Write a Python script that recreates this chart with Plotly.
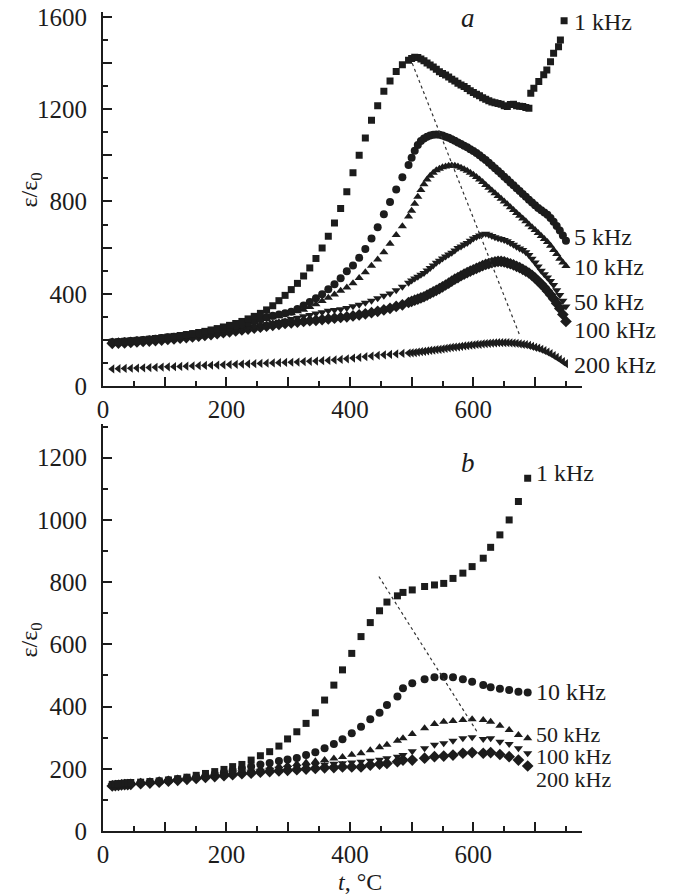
import plotly.graph_objects as go

# ---------------- panel a (top) ----------------
t_top = [15, 25, 35, 45, 55, 65, 75, 85, 95, 105, 115, 125, 135, 145, 155, 165, 175, 185, 195,
         205, 215, 225, 235, 245, 255, 265, 275, 285, 295, 305, 315, 325, 335, 345, 355, 365,
         375, 385, 395, 405, 415, 425, 435, 445, 455, 465, 475, 485, 495,
         500, 505, 510, 515, 520, 525, 530, 535, 540, 545, 550, 555, 560, 565, 570, 575, 580,
         585, 590, 595, 600, 605, 610, 615, 620, 625, 630, 635, 640, 645, 650, 655, 660, 665,
         670, 675, 680, 685, 690, 695, 700, 705, 710, 715, 720, 725, 730, 735, 740, 745, 750]

t_a_1k = [15, 25, 35, 45, 55, 65, 75, 85, 95, 105, 115, 125, 135, 145, 155, 165, 175, 185, 195,
          205, 215, 225, 235, 245, 255, 265, 275, 285, 295, 305, 315, 325, 335, 345, 355, 365,
          375, 385, 395, 405, 415, 425, 435, 445, 455, 465, 475, 485, 495,
          500, 505, 510, 515, 520, 525, 530, 535, 540, 545, 550, 555, 560, 565, 570, 575, 580,
          585, 590, 595, 600, 605, 610, 615, 620, 625, 630, 635, 640, 645, 650, 655, 660, 665,
          670, 675, 680, 685, 690,
          693, 698, 706, 714, 719, 725, 730, 738, 741, 747]
eps_a_1k = [190, 192, 194, 196, 198, 200, 203, 206, 209, 212, 215, 219, 223, 227, 232, 237, 243,
            249, 256, 263, 271, 280, 291, 302, 315, 330, 348, 370, 393, 418, 445, 477, 512, 553,
            598, 649, 707, 770, 842, 925, 1000, 1075, 1152, 1215, 1278, 1322, 1364, 1393, 1412,
            1420, 1425, 1424, 1418, 1410, 1400, 1392, 1383, 1373, 1363, 1355, 1348, 1340, 1330,
            1322, 1313, 1305, 1298, 1290, 1280, 1272, 1265, 1258, 1250, 1243, 1237, 1231, 1228,
            1225, 1222, 1215, 1212, 1220, 1222, 1215, 1213, 1212, 1208, 1204,
            1269, 1291, 1320, 1349, 1370, 1406, 1443, 1471, 1500, 1584]

eps_a_5k = [190, 191, 193, 195, 197, 199, 202, 205, 208, 211, 214, 217, 221, 225, 229, 233, 238,
            243, 249, 255, 261, 268, 275, 283, 291, 299, 305, 310, 315, 322, 334, 349, 364, 381,
            398, 419, 441, 467, 498, 522, 556, 594, 639, 688, 745, 798, 852, 905, 958,
            990, 1020, 1045, 1062, 1073, 1081, 1086, 1089, 1090, 1089, 1086, 1081, 1076, 1070,
            1063, 1056, 1049, 1042, 1035, 1027, 1019, 1010, 1000, 990, 980, 968, 956, 944, 932,
            920, 907, 895, 882, 870, 857, 845, 832, 820, 808, 796, 784, 772, 762, 752, 742, 728,
            712, 694, 674, 652, 630]

eps_a_10k = [188, 189, 191, 193, 195, 197, 200, 203, 206, 209, 212, 215, 219, 223, 227, 231, 236,
             241, 246, 251, 257, 263, 269, 276, 283, 290, 297, 304, 310, 317, 324, 331, 343, 355,
             369, 383, 397, 413, 427, 445, 468, 493, 521, 549, 580, 617, 655, 693, 735,
             760, 790, 820, 850, 875, 895, 912, 925, 935, 942, 948, 952, 955, 956, 955, 952, 946,
             940, 933, 925, 916, 906, 895, 884, 872, 860, 848, 836, 824, 812, 800, 788, 775, 763,
             750, 738, 726, 714, 700, 688, 676, 663, 650, 637, 624, 608, 590, 572, 552, 535, 520]

eps_a_50k = [188, 189, 191, 193, 195, 197, 199, 201, 204, 207, 210, 213, 216, 219, 222, 226, 230,
             234, 238, 242, 246, 250, 254, 258, 263, 268, 273, 278, 284, 290, 296, 302, 308, 314,
             320, 326, 330, 333, 338, 346, 352, 361, 370, 381, 391, 401, 415, 430, 448,
             457, 466, 474, 482, 490, 501, 512, 523, 534, 543, 553, 561, 570, 578, 588, 598, 605,
             613, 620, 630, 640, 646, 652, 658, 660, 656, 650, 645, 641, 637, 633, 628, 620, 612,
             604, 596, 590, 580, 568, 552, 535, 518, 500, 485, 470, 455, 438, 415, 395, 370, 345]

eps_a_100k = [185, 186, 187, 189, 191, 193, 195, 197, 199, 202, 204, 207, 210, 213, 216, 219, 223,
              227, 231, 235, 239, 243, 247, 251, 255, 259, 263, 267, 271, 274, 277, 280, 283, 285,
              288, 291, 294, 297, 300, 304, 308, 313, 318, 324, 330, 337, 345, 352, 362,
              367, 372, 377, 382, 387, 394, 401, 408, 415, 422, 430, 438, 446, 455, 463, 470, 478,
              485, 492, 498, 504, 510, 516, 522, 527, 531, 535, 538, 540, 540, 538, 534, 530, 525,
              519, 513, 506, 498, 490, 480, 468, 455, 442, 428, 412, 396, 378, 358, 336, 310, 280]

eps_a_200k = [74, 75, 76, 77, 78, 79, 80, 81, 82, 83, 84, 85, 86, 87, 88, 89, 90, 91, 92, 93, 94,
              95, 96, 97, 98, 99, 100, 101, 102, 103, 104, 106, 107, 108, 110, 111, 113, 115, 118,
              121, 124, 127, 130, 133, 135, 137, 139, 141, 143,
              144, 145, 147, 149, 150, 152, 154, 156, 158, 159, 161, 163, 165, 167, 169, 170, 172,
              174, 175, 177, 178, 180, 181, 183, 184, 185, 186, 187, 188, 188, 188, 188, 187, 186,
              185, 183, 181, 179, 176, 172, 168, 164, 159, 153, 147, 140, 132, 124, 115, 106, 97]

guide_a_t = [501, 676]
guide_a_eps = [1399, 214]

# ---------------- panel b (bottom) ----------------
t_b = [15, 20, 25, 30, 35, 40, 45, 61, 76, 91, 106, 121, 136, 151, 166, 181, 196, 210, 225, 240,
       255, 270, 285, 299, 314, 329, 344, 359, 374, 388, 403, 418, 433, 448, 460, 477, 486, 501,
       521, 537, 552, 567, 583, 598, 616, 628, 643, 658, 673, 688]

eps_b_1k = [150, 151, 152, 153, 154, 155, 156, 157, 159, 161, 164, 168, 173, 179, 185, 191, 198,
            207, 214, 228, 242, 255, 273, 296, 319, 346, 380, 421, 469, 518, 571, 625, 670, 708,
            736, 756, 767, 775, 786, 791, 796, 812, 829, 850, 877, 912, 952, 1000, 1059, 1134]

eps_b_10k = [148, 149, 150, 151, 152, 152, 153, 155, 157, 160, 163, 166, 170, 174, 178, 183, 189,
             195, 201, 207, 214, 219, 225, 230, 235, 244, 253, 266, 280, 295, 314, 335, 359, 380,
             405, 432, 459, 475, 488, 494, 496, 494, 488, 480, 469, 462, 457, 453, 448, 445]

eps_b_50k = [147, 148, 149, 150, 151, 151, 152, 154, 156, 159, 162, 165, 168, 172, 176, 180, 184,
             188, 192, 196, 200, 204, 208, 212, 216, 220, 224, 228, 233, 238, 245, 250, 260, 269,
             277, 290, 298, 312, 330, 344, 351, 354, 357, 359, 357, 351, 338, 325, 309, 298]

eps_b_100k = [146, 147, 148, 149, 150, 150, 151, 153, 155, 158, 161, 164, 167, 170, 174, 177, 181,
              185, 188, 191, 194, 197, 200, 203, 206, 209, 212, 214, 216, 218, 220, 223, 226, 229,
              234, 239, 244, 256, 266, 277, 282, 290, 298, 301, 296, 298, 287, 280, 266, 250]

eps_b_200k = [145, 146, 147, 148, 149, 149, 150, 152, 154, 157, 160, 163, 166, 169, 172, 175, 178,
              181, 184, 186, 189, 191, 193, 195, 197, 199, 201, 203, 204, 206, 206, 206, 212, 215,
              217, 223, 228, 228, 234, 239, 241, 244, 250, 252, 250, 252, 246, 239, 228, 209]

guide_b_t = [447, 606]
guide_b_eps = [818, 319]

x_ticks = [0, 100, 200, 300, 400, 500, 600, 700]
x_ticktext = ["0", "", "200", "", "400", "", "600", ""]
ya_ticks = [0, 200, 400, 600, 800, 1000, 1200, 1400, 1600]
ya_ticktext = ["0", "", "400", "", "800", "", "1200", "", "1600"]
yb_ticks = [0, 200, 400, 600, 800, 1000, 1200]
yb_ticktext = ["0", "200", "400", "600", "800", "1000", "1200"]

INK = "#1c1c1c"
FONT = "Times New Roman, Liberation Serif, Tinos, Nimbus Roman, serif"

fig = go.Figure()


def add(t, e, symbol, size, xa, ya):
    fig.add_trace(go.Scatter(x=t, y=e, mode="markers", xaxis=xa, yaxis=ya,
                             marker=dict(symbol=symbol, size=size, color=INK, line=dict(width=0))))


# top
add(t_top, eps_a_200k, "triangle-left", 8, "x", "y")
add(t_top, eps_a_100k, "diamond", 9, "x", "y")
add(t_top, eps_a_50k, "triangle-down", 8, "x", "y")
add(t_top, eps_a_10k, "triangle-up", 8, "x", "y")
add(t_top, eps_a_5k, "circle", 8, "x", "y")
add(t_a_1k, eps_a_1k, "square", 7, "x", "y")
fig.add_trace(go.Scatter(x=guide_a_t, y=guide_a_eps, mode="lines", xaxis="x", yaxis="y",
                         line=dict(color="#333", width=1.2, dash="dot")))

# bottom
add(t_b, eps_b_200k, "diamond", 9, "x2", "y2")
add(t_b, eps_b_100k, "triangle-down", 8, "x2", "y2")
add(t_b, eps_b_50k, "triangle-up", 8, "x2", "y2")
add(t_b, eps_b_10k, "circle", 8, "x2", "y2")
add(t_b, eps_b_1k, "square", 7, "x2", "y2")
fig.add_trace(go.Scatter(x=guide_b_t, y=guide_b_eps, mode="lines", xaxis="x2", yaxis="y2",
                         line=dict(color="#333", width=1.2, dash="dot")))

axis_common = dict(showline=True, linewidth=2, linecolor=INK, ticks="inside", ticklen=9,
                   tickwidth=1.5, tickcolor=INK, showgrid=False, zeroline=False,
                   automargin=False, tickfont=dict(family=FONT, size=25, color=INK))
x_common = dict(axis_common, ticklabelstandoff=0, domain=[0, 1], range=[0, 776],
                tickmode="array", tickvals=x_ticks, ticktext=x_ticktext,
                minor=dict(ticks="inside", ticklen=5, tickwidth=1.5, tickcolor=INK,
                           tickmode="linear", tick0=0, dtick=50, showgrid=False))
y_minor = dict(ticks="inside", ticklen=5, tickwidth=1.5, tickcolor=INK,
               tickmode="linear", tick0=0, dtick=100, showgrid=False)

fig.update_layout(
    template="none",
    width=674, height=895,
    margin=dict(l=102.5, r=92.3, t=0, b=0, autoexpand=False),
    plot_bgcolor="white", paper_bgcolor="white",
    showlegend=False,
    font=dict(family=FONT, size=24, color=INK),
    xaxis=dict(x_common, anchor="y"),
    yaxis=dict(axis_common, ticklabelstandoff=9, domain=[0.5687, 0.9862], anchor="x",
               range=[0, 1620], tickmode="array", tickvals=ya_ticks, ticktext=ya_ticktext,
               minor=y_minor),
    xaxis2=dict(x_common, anchor="y2"),
    yaxis2=dict(axis_common, ticklabelstandoff=9, domain=[0.0715, 0.5268], anchor="x2",
                range=[0, 1310], tickmode="array", tickvals=yb_ticks, ticktext=yb_ticktext,
                minor=y_minor),
)

ann = []


def label(text, x, y, xr, yr, size=24, anchor="left"):
    ann.append(dict(text=text, x=x, y=y, xref=xr, yref=yr, xanchor=anchor, yanchor="middle",
                    showarrow=False, font=dict(family=FONT, size=size, color=INK)))


label("1 kHz", 760, 1578, "x", "y")
label("5 kHz", 760, 646, "x", "y")
label("10 kHz", 760, 516, "x", "y")
label("50 kHz", 760, 364, "x", "y")
label("100 kHz", 760, 243, "x", "y")
label("200 kHz", 760, 91, "x", "y")
label("<i>a</i>", 592, 1596, "x", "y", size=27, anchor="center")

label("1 kHz", 699, 1151, "x2", "y2")
label("10 kHz", 699, 447, "x2", "y2")
label("50 kHz", 699, 309, "x2", "y2", size=22)
label("100 kHz", 699, 238, "x2", "y2", size=22)
label("200 kHz", 699, 164, "x2", "y2", size=22)
label("<i>b</i>", 592, 1183, "x2", "y2", size=27, anchor="center")

for yc in (0.7877, 0.2849):
    ann.append(dict(text="ε/ε<sub>0</sub>", x=-0.1513, y=yc, xref="paper", yref="paper",
                    xanchor="center", yanchor="middle", textangle=-90, showarrow=False,
                    font=dict(family=FONT, size=24, color=INK)))

ann.append(dict(text="<i>t</i>, °C", x=0.537, y=0.0145, xref="paper", yref="paper",
                xanchor="center", yanchor="middle", showarrow=False,
                font=dict(family=FONT, size=24, color=INK)))

fig.update_layout(annotations=ann)

fig.write_html("out.html")
